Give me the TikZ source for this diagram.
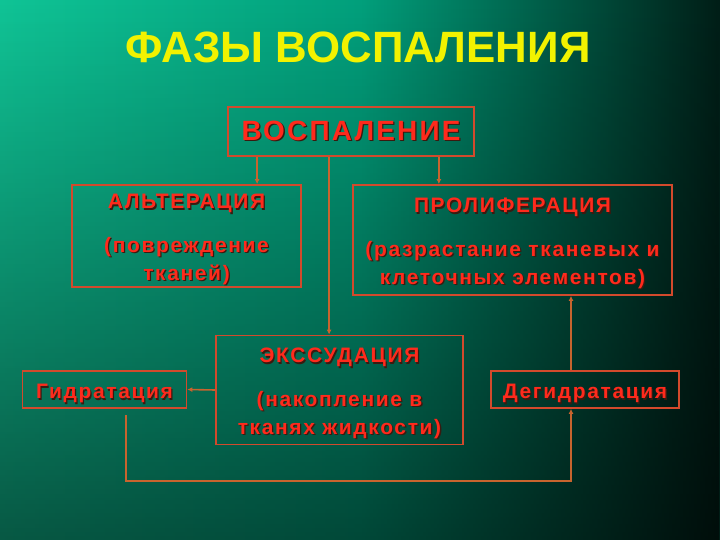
\documentclass[tikz,border=0pt]{standalone}
\usepackage{fontspec}
\setmainfont{Liberation Sans}
\newfontfamily\phasefont[LetterSpace=8]{Liberation Sans}
\usepackage{xcolor}
\usetikzlibrary{arrows.meta}
\usetikzlibrary{fadings}

\definecolor{bgleft}{HTML}{10C496}
\definecolor{bgmid}{HTML}{02A07C}
\definecolor{bgright}{HTML}{001E17}
\definecolor{titleyellow}{HTML}{F2F200}
\definecolor{phasered}{HTML}{FF2A1C}
\definecolor{phaseshadow}{HTML}{3A1A10}
\definecolor{boxedge}{HTML}{D24A2C}
\definecolor{linkcol}{HTML}{C8642E}

\newcommand{\sh}[1]{\makebox[0pt][l]{\kern1.3pt\raisebox{-1.3pt}{\color{phaseshadow}#1}}#1}

\tikzset{
    phasebox/.style={draw=boxedge, line width=1.8pt, text=phasered, align=center,
        font=\phasefont\bfseries\fontsize{21}{28}\selectfont, inner sep=0pt},
    sidebox/.style={phasebox, minimum height=37bp, text height=23pt, text depth=4.5pt},
    link/.style={draw=linkcol, line width=1.6pt, -{Latex[length=5pt,width=5pt]}}
}

\begin{document}
\begin{tikzpicture}[x=1bp,y=-1bp]
    \newcommand{\phgap}{16pt}
    \newcommand{\phstrut}{\rule{0pt}{23pt}}
    % background
    \shade[left color=bgleft, right color=bgright, middle color=bgmid] (0,0) rectangle (720,540);
    \fill[black, fill opacity=0.55, path fading=north] (0,0) rectangle (720,540);
    \useasboundingbox (0,0) rectangle (720,540);

    \node[text=titleyellow, font=\bfseries\fontsize{44}{46}\selectfont] (title) at (358,47) {ФАЗЫ ВОСПАЛЕНИЯ};

    \node[phasebox, minimum width=246bp, minimum height=49bp, font=\phasefont\bfseries\fontsize{28}{30}\selectfont] (vosp) at (351,131.5) {\sh{ВОСПАЛЕНИЕ}};
    \node[phasebox, minimum width=229bp, minimum height=102bp] (alt) at (186.5,236) {\phstrut\sh{АЛЬТЕРАЦИЯ}\\[\phgap]\sh{(повреждение}\\\sh{тканей)}};
    \node[phasebox, minimum width=319bp, minimum height=110bp] (prolif) at (512.5,240) {\phstrut\sh{ПРОЛИФЕРАЦИЯ}\\[\phgap]\sh{(разрастание тканевых и}\\\sh{клеточных элементов)}};
    \node[phasebox, minimum width=247bp, minimum height=109bp] (exsud) at (339.5,390) {\phstrut\sh{ЭКССУДАЦИЯ}\\[\phgap]\sh{(накопление в}\\\sh{тканях жидкости)}};
    \node[sidebox, minimum width=164bp] (gidr) at (104.5,389.5) {\sh{Гидратация}};
    \node[sidebox, minimum width=188bp] (degidr) at (585,389.5) {\sh{Дегидратация}};

    \coordinate (gidrout) at (126,415);

    \draw[link] ([xshift=30bp]vosp.south west) -- ([xshift=30bp]vosp.south west |- alt.north);
    \draw[link] ([xshift=102bp]vosp.south west) -- ([xshift=102bp]vosp.south west |- exsud.north);
    \draw[link] ([xshift=-36bp]vosp.south east) -- ([xshift=-36bp]vosp.south east |- prolif.north);
    \draw[link] (exsud.west) -- (gidr.east);
    \draw[link] (gidrout) -- ++(0,66) -| ([xshift=-14bp]degidr.south);
    \draw[link] ([xshift=-14bp]degidr.north) -- ([xshift=-14bp]degidr.north |- prolif.south);
\end{tikzpicture}
\end{document}
